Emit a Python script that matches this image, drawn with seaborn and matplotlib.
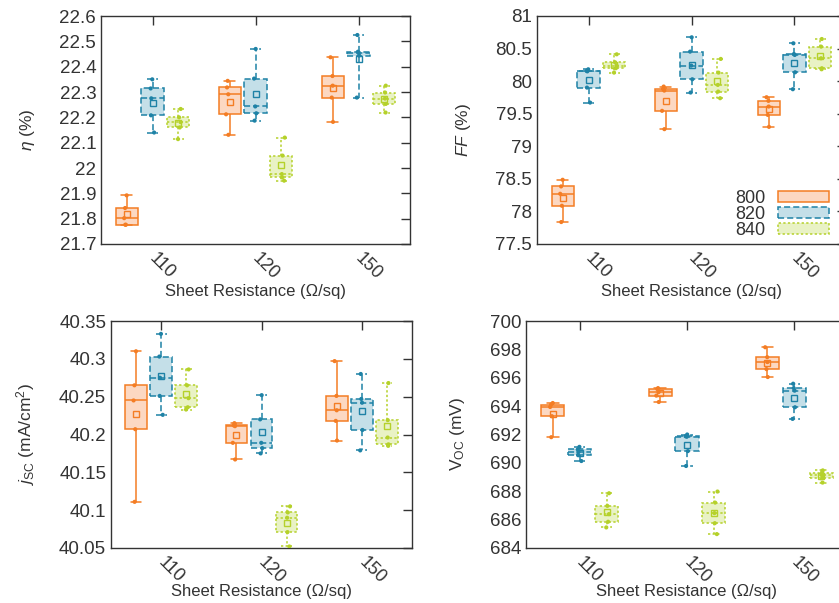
import numpy as np
import pandas as pd
import matplotlib
matplotlib.use("Agg")
import matplotlib.pyplot as plt
import seaborn as sns
from matplotlib.patches import Patch
from matplotlib.transforms import ScaledTranslation

sns.set_theme(style="white")
plt.rcParams['font.family'] = ['Liberation Sans', 'DejaVu Sans']
plt.rcParams['mathtext.fontset'] = 'custom'
plt.rcParams['mathtext.rm'] = 'Liberation Sans'
plt.rcParams['mathtext.it'] = 'Liberation Sans:italic'

resistances = ["110", "120", "150"]
temps = ["800", "820", "840"]

# per (resistance, temperature): five readings each
eta = {
    ("110", "800"): [21.776, 21.776, 21.802, 21.842, 21.892],
    ("110", "820"): [22.140, 22.208, 22.275, 22.314, 22.350],
    ("110", "840"): [22.114, 22.160, 22.181, 22.200, 22.233],
    ("120", "800"): [22.131, 22.212, 22.291, 22.318, 22.344],
    ("120", "820"): [22.187, 22.216, 22.243, 22.353, 22.470],
    ("120", "840"): [21.950, 21.963, 21.976, 22.049, 22.120],
    ("150", "800"): [22.182, 22.278, 22.325, 22.363, 22.437],
    ("150", "820"): [22.278, 22.444, 22.455, 22.459, 22.525],
    ("150", "840"): [22.219, 22.253, 22.274, 22.298, 22.325],
}
ff = {
    ("110", "800"): [77.837, 78.087, 78.271, 78.384, 78.486],
    ("110", "820"): [79.671, 79.901, 80.150, 80.157, 80.182],
    ("110", "840"): [80.131, 80.198, 80.239, 80.290, 80.412],
    ("120", "800"): [79.263, 79.544, 79.855, 79.881, 79.917],
    ("120", "820"): [79.825, 80.029, 80.239, 80.453, 80.673],
    ("120", "840"): [79.738, 79.840, 79.942, 80.131, 80.341],
    ("150", "800"): [79.298, 79.482, 79.610, 79.697, 79.753],
    ("150", "820"): [79.876, 80.136, 80.402, 80.417, 80.581],
    ("150", "840"): [80.182, 80.198, 80.351, 80.530, 80.647],
}
jsc = {
    ("110", "800"): [40.111, 40.207, 40.245, 40.265, 40.310],
    ("110", "820"): [40.226, 40.251, 40.275, 40.303, 40.333],
    ("110", "840"): [40.233, 40.236, 40.248, 40.265, 40.286],
    ("120", "800"): [40.167, 40.189, 40.211, 40.212, 40.215],
    ("120", "820"): [40.175, 40.182, 40.189, 40.220, 40.252],
    ("120", "840"): [40.052, 40.071, 40.090, 40.097, 40.105],
    ("150", "800"): [40.192, 40.218, 40.232, 40.251, 40.297],
    ("150", "820"): [40.179, 40.206, 40.242, 40.247, 40.280],
    ("150", "840"): [40.185, 40.187, 40.196, 40.219, 40.268],
}
voc = {
    ("110", "800"): [691.81, 693.29, 693.94, 694.11, 694.22],
    ("110", "820"): [690.13, 690.55, 690.76, 690.95, 691.13],
    ("110", "840"): [685.45, 685.85, 686.39, 686.97, 687.86],
    ("120", "800"): [694.29, 694.74, 694.99, 695.20, 695.27],
    ("120", "820"): [689.78, 690.83, 691.84, 691.88, 692.00],
    ("120", "840"): [684.98, 685.75, 686.46, 687.20, 687.98],
    ("150", "800"): [696.05, 696.61, 697.10, 697.45, 698.15],
    ("150", "820"): [693.10, 693.92, 695.09, 695.27, 695.58],
    ("150", "840"): [688.61, 688.96, 689.12, 689.26, 689.47],
}

edge_colors = ["#f47d24", "#1e82a6", "#b5d12a"]
fill_colors = ["#fcd8c2", "#c4dfe8", "#e9f2c5"]
line_styles = ["-", (0, (4, 2)), (0, (1.5, 1.5))]
text_col = "#333333"


def to_frame(d):
    rows = []
    for (r, t), vals in d.items():
        for v in vals:
            rows.append({"res": r, "temp": t, "val": v})
    return pd.DataFrame(rows)


fig = plt.figure(figsize=(8.39, 6.03), dpi=100)
W, H = 839, 603


def add_ax(left, top, width, height):
    return fig.add_axes([left / W, (H - top - height) / H, width / W, height / H])


axes = [
    add_ax(101, 16, 309, 228),
    add_ax(537, 16, 309, 228),
    add_ax(111, 321, 301, 227),
    add_ax(526, 321, 322, 227),
]
xlabel_pads = [0.5, 0.5, -2, -2]

panels = [
    (eta, r"$\mathit{\eta}$ (%)", (21.7, 22.6), np.arange(21.7, 22.61, 0.1),
     ["21.7", "21.8", "21.9", "22", "22.1", "22.2", "22.3", "22.4", "22.5", "22.6"]),
    (ff, r"$\mathit{FF}$ (%)", (77.5, 81), np.arange(77.5, 81.01, 0.5),
     ["77.5", "78", "78.5", "79", "79.5", "80", "80.5", "81"]),
    (jsc, r"$\mathit{j}_{\mathrm{SC}}$ (mA/cm$^{2}$)", (40.05, 40.35), np.arange(40.05, 40.351, 0.05),
     ["40.05", "40.1", "40.15", "40.2", "40.25", "40.3", "40.35"]),
    (voc, r"V$_{\mathrm{OC}}$ (mV)", (684, 700), np.arange(684, 700.1, 2),
     [str(v) for v in range(684, 701, 2)]),
]

for ax, xpad, (d, ylabel, ylim, yticks, yticklabels) in zip(axes, xlabel_pads, panels):
    df = to_frame(d)
    sns.boxplot(data=df, x="res", y="val", hue="temp", order=resistances, hue_order=temps,
                palette=edge_colors, saturation=1, width=0.75, gap=0.14, whis=(0, 100),
                showmeans=True, showfliers=False, linewidth=1.1, ax=ax, legend=False,
                meanprops=dict(marker="s", markersize=4.5, markerfacecolor="none"))
    for i, cont in enumerate(ax.containers):
        ec, fc, ls = edge_colors[i], fill_colors[i], line_styles[i]
        for b in cont.boxes:
            b.set_facecolor(fc)
            b.set_edgecolor(ec)
            b.set_linestyle(ls)
            b.set_linewidth(1.1)
        for ln in list(cont.whiskers) + list(cont.caps) + list(cont.medians):
            ln.set_color(ec)
            ln.set_linestyle(ls)
            ln.set_linewidth(1.1)
        for ln in cont.means:
            ln.set_markeredgecolor(ec)
            ln.set_markeredgewidth(1.0)
    np.random.seed(3)
    sns.stripplot(data=df, x="res", y="val", hue="temp", order=resistances, hue_order=temps,
                  palette=edge_colors, dodge=True, jitter=0.06, size=3, linewidth=0,
                  ax=ax, legend=False, zorder=5)
    ax.set_ylim(*ylim)
    ax.set_xlim(-0.5, 2.5)
    ax.set_yticks(yticks)
    ax.set_yticklabels(yticklabels)
    ax.set_ylabel(ylabel, fontsize=12.5, color=text_col, labelpad=16)
    ax.set_xlabel("Sheet Resistance (Ω/sq)", fontsize=12, color=text_col, labelpad=xpad)
    ax.tick_params(axis="both", direction="in", top=True, right=True, length=6.5, width=1,
                   color=text_col, labelsize=13.5, labelcolor=text_col)
    ax.tick_params(axis="x", pad=4, labelsize=13)
    offset = ScaledTranslation(4 / 72, 0, fig.dpi_scale_trans)
    for lab in ax.get_xticklabels():
        lab.set_rotation(-45)
        lab.set_ha("left")
        lab.set_rotation_mode("anchor")
        lab.set_transform(lab.get_transform() + offset)
    for sp in ax.spines.values():
        sp.set_color(text_col)
        sp.set_linewidth(1.0)

handles = [Patch(facecolor=fill_colors[i], edgecolor=edge_colors[i], linestyle=line_styles[i],
                 linewidth=1.1, label=temps[i]) for i in range(3)]
axes[1].legend(handles=handles, loc="lower right", frameon=False, markerfirst=False,
               handlelength=2.8, handleheight=0.55, labelspacing=-0.05, fontsize=13,
               handletextpad=0.7, bbox_to_anchor=(0.98, -0.025), borderaxespad=0.2,
               labelcolor=text_col)

fig.savefig("out.png", dpi=100)
